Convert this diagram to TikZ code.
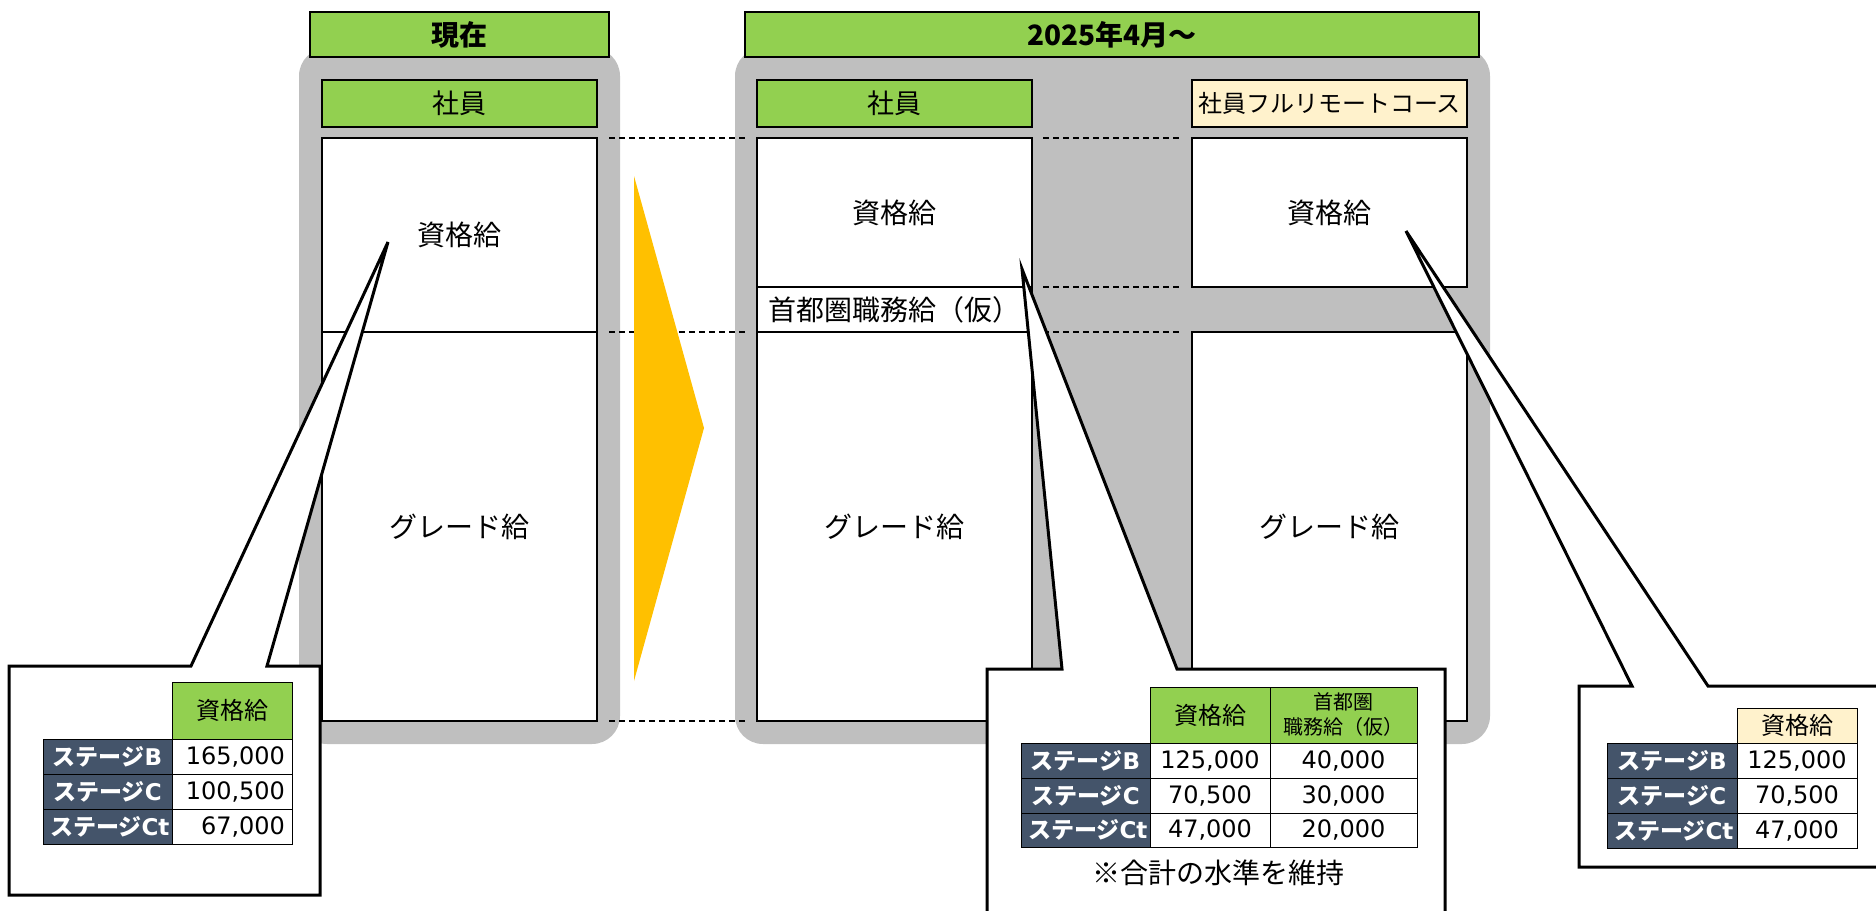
\documentclass[tikz,border=0pt]{standalone}
\usepackage{fontspec}
\setmainfont{Noto Sans CJK JP}
\newfontfamily\dv{DejaVu Sans}
\definecolor{lgreen}{HTML}{92D050}
\definecolor{lyellow}{HTML}{FFF2CC}
\definecolor{panelgray}{HTML}{BFBFBF}
\definecolor{arrowy}{HTML}{FFC000}
\definecolor{navy}{HTML}{44546A}
\newcommand\stage[1]{{\bfseries ステージ}{\dv\bfseries #1}}
\newcommand\tcell[7]{%
  \pgfmathsetmacro\cw{(#4-#2)*0.5}%
  \pgfmathsetmacro\ch{(#5-#3)*0.5}%
  \pgfmathsetmacro\tw{(#4-#2)*0.5-7}%
  \node[cellbase,#6,minimum width=\cw pt,minimum height=\ch pt,text width=\tw pt] (#1) at ({(#2+#4)/2},{(#3+#5)/2}) {#7};}
\begin{document}
\begin{tikzpicture}[x=0.5pt,y=-0.5pt,
  panel/.style={fill=panelgray, rounded corners=14pt},
  titlebox/.style={draw, fill=lgreen, line width=0.7pt, inner sep=0pt, font=\bfseries\fontsize{14}{16}\selectfont},
  hdrbox/.style={draw, fill=lgreen, line width=0.7pt, inner sep=0pt, font=\fontsize{13.5}{16}\selectfont},
  cbox/.style={draw, fill=white, line width=0.8pt, inner sep=0pt, font=\fontsize{14}{16}\selectfont},
  dashline/.style={dash pattern=on 3pt off 2pt, line width=0.85pt},
  callout/.style={draw, fill=white, line width=1.5pt},
  cellbase/.style={draw, line width=0.5pt, inner xsep=3.5pt, inner ysep=0pt, align=center},
  hdrg/.style={fill=lgreen, font=\fontsize{12}{14}\selectfont},
  hdry/.style={fill=lyellow, font=\fontsize{12}{14}\selectfont},
  hdrs/.style={fill=lgreen, font=\fontsize{10}{12.5}\selectfont},
  lab/.style={fill=navy, text=white, font=\fontsize{11.5}{13}\selectfont},
  val/.style={fill=white, font=\dv\fontsize{12}{14}\selectfont},
  valr/.style={fill=white, align=right, font=\dv\fontsize{12}{14}\selectfont}
]
\useasboundingbox (0,0) rectangle (1876,911);

% gray panels
\fill[panel] (299,48) rectangle (620,744);
\fill[panel] (735,48) rectangle (1490,744);

% titles
\node[titlebox, minimum width=149.5pt, minimum height=22.5pt] (tnow) at (459.5,34.5) {現在};
\node[titlebox, minimum width=367pt, minimum height=22.5pt] (tnew) at (1112,34.5) {2025年4月〜};

% column headers
\node[hdrbox, minimum width=137.5pt, minimum height=23.5pt] (hL) at (459.5,103.5) {社員};
\node[hdrbox, minimum width=137.5pt, minimum height=23.5pt] (hM) at (894.5,103.5) {社員};
\node[hdrbox, fill=lyellow, minimum width=137.5pt, minimum height=23.5pt, font=\fontsize{12}{14}\selectfont] (hR) at (1329.5,103.5) {社員フルリモートコース};

% left column
\node[cbox, minimum width=137.5pt, minimum height=97pt] (Lup) at (459.5,235) {資格給};
\node[cbox, minimum width=137.5pt, minimum height=194.5pt] (Llo) at (459.5,526.5) {グレード給};

% middle column
\node[cbox, minimum width=137.5pt, minimum height=74.5pt] (Mup) at (894.5,212.5) {資格給};
\node[cbox, minimum width=137.5pt, minimum height=22.5pt] (Mmid) at (894.5,309.5) {首都圏職務給（仮）};
\node[cbox, minimum width=137.5pt, minimum height=194.5pt] (Mlo) at (894.5,526.5) {グレード給};

% right column
\node[cbox, minimum width=137.5pt, minimum height=74.5pt] (Rup) at (1329.5,212.5) {資格給};
\node[cbox, minimum width=137.5pt, minimum height=194.5pt] (Rlo) at (1329.5,526.5) {グレード給};

% dashed guide lines
\coordinate (d1a) at (609,138); \coordinate (d1b) at (745,138);
\coordinate (d2a) at (609,332); \coordinate (d2b) at (745,332);
\coordinate (d3a) at (609,721); \coordinate (d3b) at (745,721);
\coordinate (d4a) at (1043,138); \coordinate (d4b) at (1180,138);
\coordinate (d5a) at (1043,287); \coordinate (d5b) at (1180,287);
\coordinate (d6a) at (1043,332); \coordinate (d6b) at (1180,332);
\draw[dashline] (d1a) -- (d1b);
\draw[dashline] (d2a) -- (d2b);
\draw[dashline] (d3a) -- (d3b);
\draw[dashline] (d4a) -- (d4b);
\draw[dashline] (d5a) -- (d5b);
\draw[dashline] (d6a) -- (d6b);

% big arrow
\fill[arrowy] (634,176) -- (704,428) -- (634,681) -- cycle;

% callouts
\coordinate (tipL) at (388,242);
\coordinate (tipM) at (1022,269);
\coordinate (tipR) at (1406,231);
\draw[callout] (9,666) -- (191,666) -- (tipL) -- (267,666) -- (320,666) -- (320,895) -- (9,895) -- cycle;
\draw[callout] (987,669) -- (1062,669) -- (tipM) -- (1177,669) -- (1445,669) -- (1445,935) -- (987,935) -- cycle;
\draw[callout] (1579,686) -- (1632,686) -- (tipR) -- (1708,686) -- (1895,686) -- (1895,867) -- (1579,867) -- cycle;

% left table
\tcell{lh}{172}{682}{292}{739}{hdrg}{資格給}
\tcell{l1}{43}{739}{172}{774}{lab}{\stage{B}}
\tcell{l1v}{172}{739}{292}{774}{valr}{165,000}
\tcell{l2}{43}{774}{172}{809}{lab}{\stage{C}}
\tcell{l2v}{172}{774}{292}{809}{valr}{100,500}
\tcell{l3}{43}{809}{172}{844}{lab}{\stage{Ct}}
\tcell{l3v}{172}{809}{292}{844}{valr}{67,000}

% middle table
\tcell{mh1}{1150}{687}{1270}{743}{hdrg}{資格給}
\tcell{mh2}{1270}{687}{1417}{743}{hdrs}{首都圏\\職務給（仮）}
\tcell{m1}{1021}{743}{1150}{778}{lab}{\stage{B}}
\tcell{m1a}{1150}{743}{1270}{778}{val}{125,000}
\tcell{m1b}{1270}{743}{1417}{778}{val}{40,000}
\tcell{m2}{1021}{778}{1150}{813}{lab}{\stage{C}}
\tcell{m2a}{1150}{778}{1270}{813}{val}{70,500}
\tcell{m2b}{1270}{778}{1417}{813}{val}{30,000}
\tcell{m3}{1021}{813}{1150}{847}{lab}{\stage{Ct}}
\tcell{m3a}{1150}{813}{1270}{847}{val}{47,000}
\tcell{m3b}{1270}{813}{1417}{847}{val}{20,000}
\node[font=\fontsize{14}{16}\selectfont] (note) at (1218,873) {※合計の水準を維持};

% right table
\tcell{rh}{1737}{708}{1857}{743}{hdry}{資格給}
\tcell{r1}{1607}{743}{1737}{778}{lab}{\stage{B}}
\tcell{r1v}{1737}{743}{1857}{778}{val}{125,000}
\tcell{r2}{1607}{778}{1737}{813}{lab}{\stage{C}}
\tcell{r2v}{1737}{778}{1857}{813}{val}{70,500}
\tcell{r3}{1607}{813}{1737}{848}{lab}{\stage{Ct}}
\tcell{r3v}{1737}{813}{1857}{848}{val}{47,000}
\end{tikzpicture}
\end{document}
